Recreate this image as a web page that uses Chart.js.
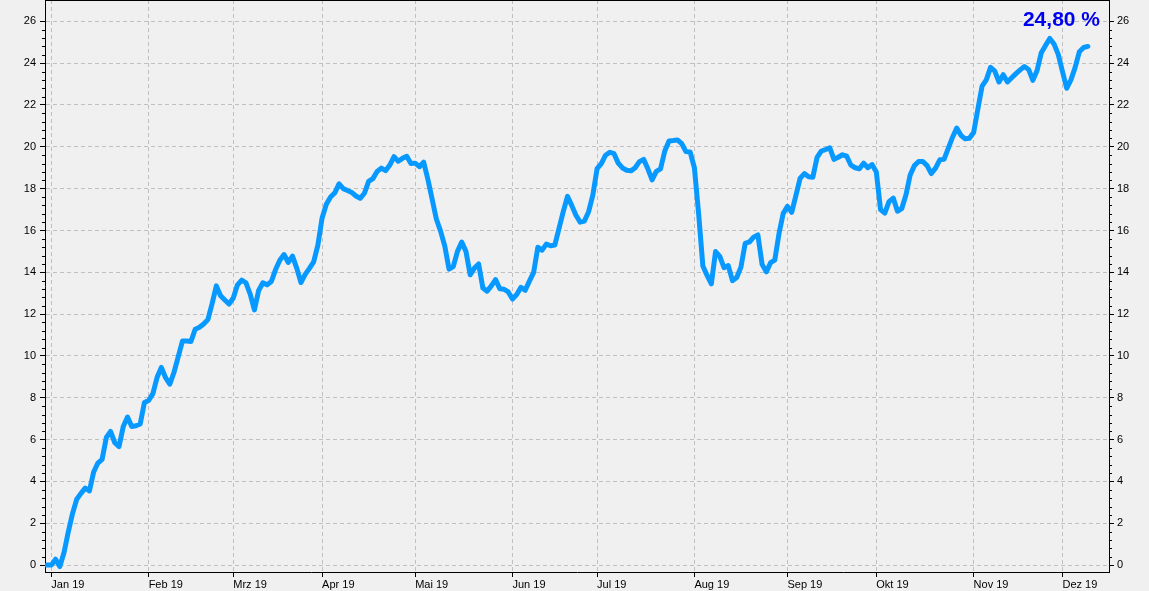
<!DOCTYPE html>
<html>
<head>
<meta charset="utf-8">
<script src="https://cdn.jsdelivr.net/npm/chart.js@4"></script>
<style>
  html, body { margin: 0; padding: 0; background: #f0f0f0; }
  canvas { display: block; }
</style>
</head>
<body>
<canvas id="myChart" width="1149" height="591"></canvas>
<script>
// trading-day index (Mon-Fri) counted from 31.12.2018
var monthStarts = [1, 24, 44, 65, 87, 110, 130, 153, 175, 196, 219, 240];
var monthLabels = ["Jan 19", "Feb 19", "Mrz 19", "Apr 19", "Mai 19", "Jun 19",
                   "Jul 19", "Aug 19", "Sep 19", "Okt 19", "Nov 19", "Dez 19"];
var yTicks = [0, 2, 4, 6, 8, 10, 12, 14, 16, 18, 20, 22, 24, 26];

// performance in % per trading day
var values = [
  0.00, 0.00, 0.28, -0.07, 0.60, 1.58, 2.46, 3.15, 3.43, 3.68,
  3.55, 4.45, 4.88, 5.06, 6.10, 6.39, 5.85, 5.67, 6.63, 7.08,
  6.63, 6.66, 6.75, 7.77, 7.87, 8.20, 8.98, 9.45, 8.96, 8.65,
  9.22, 9.97, 10.72, 10.71, 10.69, 11.28, 11.37, 11.53, 11.74, 12.50,
  13.35, 12.88, 12.68, 12.48, 12.77, 13.40, 13.63, 13.50, 12.96, 12.20,
  13.13, 13.50, 13.40, 13.56, 14.13, 14.58, 14.85, 14.47, 14.77, 14.20,
  13.51, 13.90, 14.19, 14.50, 15.30, 16.60, 17.25, 17.60, 17.80, 18.23,
  18.00, 17.91, 17.82, 17.65, 17.54, 17.78, 18.35, 18.48, 18.82, 18.98,
  18.86, 19.13, 19.53, 19.31, 19.45, 19.55, 19.20, 19.22, 19.05, 19.27,
  18.45, 17.50, 16.55, 15.97, 15.25, 14.15, 14.27, 15.00, 15.45, 15.00,
  13.88, 14.20, 14.40, 13.25, 13.10, 13.35, 13.65, 13.21, 13.19, 13.06,
  12.72, 12.94, 13.28, 13.14, 13.58, 14.00, 15.20, 15.06, 15.35, 15.27,
  15.30, 16.10, 16.90, 17.63, 17.20, 16.73, 16.40, 16.45, 16.90, 17.70,
  18.96, 19.20, 19.60, 19.74, 19.67, 19.22, 18.99, 18.88, 18.85, 19.00,
  19.29, 19.40, 18.95, 18.42, 18.83, 18.95, 19.80, 20.28, 20.30, 20.33,
  20.15, 19.77, 19.75, 19.00, 16.80, 14.30, 13.85, 13.45, 14.99, 14.76,
  14.22, 14.32, 13.60, 13.75, 14.25, 15.38, 15.45, 15.68, 15.79, 14.38,
  14.02, 14.46, 14.58, 15.85, 16.82, 17.15, 16.87, 17.68, 18.50, 18.72,
  18.57, 18.55, 19.50, 19.80, 19.87, 19.95, 19.40, 19.50, 19.62, 19.55,
  19.12, 19.00, 18.95, 19.22, 19.00, 19.15, 18.80, 17.00, 16.83, 17.38,
  17.55, 16.92, 17.04, 17.70, 18.65, 19.10, 19.30, 19.30, 19.10, 18.72,
  18.98, 19.38, 19.40, 19.93, 20.45, 20.90, 20.55, 20.38, 20.41, 20.68,
  21.80, 22.90, 23.20, 23.80, 23.62, 23.10, 23.45, 23.10, 23.30, 23.50,
  23.68, 23.84, 23.70, 23.18, 23.65, 24.50, 24.85, 25.18, 24.92, 24.42,
  23.60, 22.80, 23.20, 23.80, 24.55, 24.75, 24.80
];

var points = values.map(function (v, i) { return {x: i, y: v}; });

var FONT = "'Liberation Sans', Arial, sans-serif";

// minor ticks on both y axes, top frame line and the last value label
var extras = {
  id: 'extras',
  afterDraw: function (chart) {
    var ctx = chart.ctx;
    var area = chart.chartArea;
    var ys = chart.scales.y;
    ctx.save();
    ctx.strokeStyle = '#000';
    ctx.lineWidth = 1;
    ctx.beginPath();
    for (var k = 0; k <= 65; k++) {
      if (k % 5 === 0) continue;
      var py = Math.round(ys.getPixelForValue(k * 0.4)) + 0.5;
      ctx.moveTo(area.left - 3, py); ctx.lineTo(area.left, py);
      ctx.moveTo(area.right, py); ctx.lineTo(area.right + 3, py);
    }
    ctx.moveTo(area.left, area.top + 0.5); ctx.lineTo(area.right, area.top + 0.5);
    ctx.stroke();

    var last = values[values.length - 1];
    ctx.fillStyle = '#0000f0';
    ctx.font = "bold 21px " + FONT;
    ctx.textAlign = 'right';
    ctx.textBaseline = 'alphabetic';
    ctx.fillText(last.toFixed(2).replace('.', ',') + ' %', 1100, 26);
    ctx.restore();
  }
};

function yAxis(pos, width, pad) {
  return {
    type: 'linear',
    position: pos,
    min: -0.33,
    max: 27.02,
    afterBuildTicks: function (scale) {
      scale.ticks = yTicks.map(function (v) { return {value: v}; });
    },
    afterFit: function (scale) {
      scale.width = width;
      scale.paddingTop = 0;
      scale.paddingBottom = 0;
    },
    ticks: {
      color: '#000',
      padding: pad,
      font: {family: FONT, size: 11},
      callback: function (v) { return String(v); }
    },
    grid: {
      drawOnChartArea: pos === 'left',
      color: '#c0c0c0',
      tickColor: '#000',
      tickLength: 5,
      lineWidth: 1
    },
    border: {display: true, color: '#000', width: 1, dash: [4, 3]}
  };
}

new Chart("myChart", {
  type: "line",
  data: {
    datasets: [{
      data: points,
      borderColor: '#0799ff',
      borderWidth: 5,
      borderJoinStyle: 'round',
      borderCapStyle: 'round',
      pointRadius: 0,
      tension: 0,
      fill: false
    }]
  },
  options: {
    responsive: false,
    animation: false,
    layout: {padding: 0},
    plugins: {
      legend: {display: false},
      title: {display: false},
      tooltip: {enabled: false}
    },
    scales: {
      x: {
        type: 'linear',
        min: -0.5,
        max: 251,
        afterBuildTicks: function (scale) {
          scale.ticks = monthStarts.map(function (v) { return {value: v}; });
        },
        afterFit: function (scale) {
          scale.height = 19;
          scale.paddingLeft = 0;
          scale.paddingRight = 0;
        },
        ticks: {
          color: '#000',
          align: 'start',
          autoSkip: false,
          maxRotation: 0,
          padding: 1,
          font: {family: FONT, size: 11},
          callback: function (v, i) { return monthLabels[i]; }
        },
        grid: {
          color: '#c0c0c0',
          tickColor: '#000',
          tickLength: 5,
          lineWidth: 1
        },
        border: {display: true, color: '#000', width: 1, dash: [4, 3]}
      },
      y: yAxis('left', 45, 4),
      y2: yAxis('right', 40, 3)
    }
  },
  plugins: [extras]
});
</script>
</body>
</html>
